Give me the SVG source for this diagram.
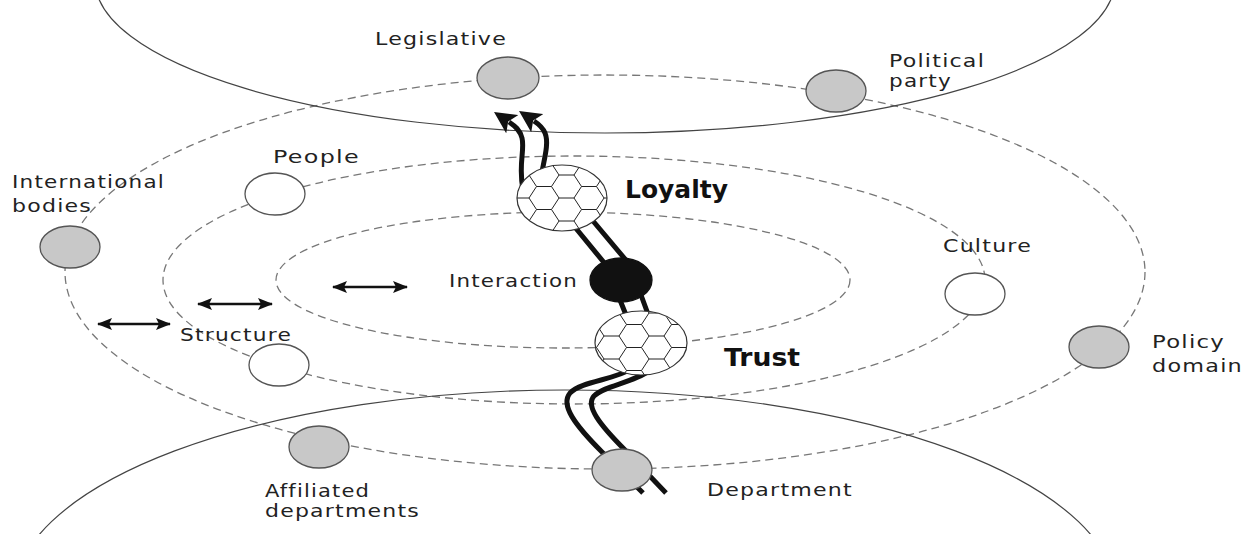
<svg xmlns="http://www.w3.org/2000/svg" width="1259" height="534" viewBox="0 0 1259 534">
<style>
.dash{fill:none;stroke:#777;stroke-width:1.3;stroke-dasharray:8 5}
.solid{fill:none;stroke:#444;stroke-width:1.2}
.gray{fill:#c8c8c8;stroke:#555;stroke-width:1.3}
.white{fill:#fff;stroke:#555;stroke-width:1.3}
.black{fill:#111;stroke:#111;stroke-width:1.3}
.hexbg{fill:#fff}
.hexfill{fill:url(#hex)}
.hexrim{fill:none;stroke:#333;stroke-width:1.2}
.lbl{font-family:"DejaVu Sans",Verdana,sans-serif;font-size:18px;letter-spacing:1px;fill:#222}
.big{font-family:"DejaVu Sans",Verdana,sans-serif;font-size:24px;font-weight:bold;fill:#111}
.flow{fill:none;stroke:#111;stroke-width:5}
.dbl{fill:none;stroke:#111;stroke-width:2.6}
</style>
<defs>
<pattern id="hex" patternUnits="userSpaceOnUse" x="4" y="175" width="45" height="23">
<path d="M7.5,11.5 L15,0 L30,0 L37.5,11.5 L30,23 L15,23 Z M0,11.5 H7.5 M37.5,11.5 H45" fill="none" stroke="#222" stroke-width="1"/>
</pattern>
<marker id="big" markerUnits="userSpaceOnUse" viewBox="0 0 22 22" markerWidth="22" markerHeight="22" refX="4" refY="11" orient="auto">
<path d="M0,0 L22,11 L0,22 L5,11 Z" fill="#111"/>
</marker>
<marker id="small" markerUnits="userSpaceOnUse" viewBox="0 0 15 12" markerWidth="15" markerHeight="12" refX="14" refY="6" orient="auto-start-reverse">
<path d="M0,0 L15,6 L0,12 L3,6 Z" fill="#111"/>
</marker>
</defs>

<g id="rings">
<ellipse class="dash" cx="605" cy="272" rx="540" ry="197"/>
<ellipse class="dash" cx="574" cy="280" rx="411" ry="124"/>
<ellipse class="dash" cx="563" cy="280" rx="287" ry="68"/>
<ellipse class="solid" cx="605" cy="-20" rx="510" ry="153"/>
<ellipse class="solid" cx="565" cy="598" rx="552" ry="208"/>
</g>

<g id="connectors">
<path class="flow" d="M643,493 L602,452 C575,425 560,405 570,393 C582,381 615,380 633,368"/>
<path class="flow" d="M666,493 L625,450 C600,425 585,406 594,396 C605,385 635,383 653,368"/>
<path class="flow" d="M565,215 L606,265 L630,325"/>
<path class="flow" d="M588,215 L630,265 L652,325"/>
<path class="flow" d="M523,190 C518,165 525,150 522,138 C520,130 515,126 509,122" marker-end="url(#big)"/>
<path class="flow" d="M540,185 C542,165 550,145 545,133 C543,128 540,125 534,121" marker-end="url(#big)"/>
<line class="dbl" x1="98" y1="324" x2="170" y2="324" marker-start="url(#small)" marker-end="url(#small)"/>
<line class="dbl" x1="198" y1="304" x2="272" y2="304" marker-start="url(#small)" marker-end="url(#small)"/>
<line class="dbl" x1="333" y1="287" x2="407" y2="287" marker-start="url(#small)" marker-end="url(#small)"/>
</g>

<g id="legislative">
<ellipse class="gray" cx="508" cy="78" rx="31" ry="21"/>
<text class="lbl" x="375" y="45" textLength="132" lengthAdjust="spacingAndGlyphs">Legislative</text>
</g>
<g id="political-party">
<ellipse class="gray" cx="836" cy="91" rx="30" ry="21"/>
<text class="lbl" x="889" y="67" textLength="96" lengthAdjust="spacingAndGlyphs">Political</text>
<text class="lbl" x="889" y="87" textLength="63" lengthAdjust="spacingAndGlyphs">party</text>
</g>
<g id="international-bodies">
<ellipse class="gray" cx="70" cy="247" rx="30" ry="21"/>
<text class="lbl" x="12" y="188" textLength="153" lengthAdjust="spacingAndGlyphs">International</text>
<text class="lbl" x="12" y="212" textLength="80" lengthAdjust="spacingAndGlyphs">bodies</text>
</g>
<g id="people">
<ellipse class="white" cx="275" cy="194" rx="30" ry="21"/>
<text class="lbl" x="273" y="163" textLength="87" lengthAdjust="spacingAndGlyphs">People</text>
</g>
<g id="structure">
<ellipse class="white" cx="279" cy="365" rx="30" ry="21"/>
<text class="lbl" x="180" y="341" textLength="112" lengthAdjust="spacingAndGlyphs">Structure</text>
</g>
<g id="culture">
<ellipse class="white" cx="975" cy="294" rx="30" ry="21"/>
<text class="lbl" x="943" y="252" textLength="89" lengthAdjust="spacingAndGlyphs">Culture</text>
</g>
<g id="policy-domain">
<ellipse class="gray" cx="1099" cy="347" rx="30" ry="21"/>
<text class="lbl" x="1152" y="348" textLength="73" lengthAdjust="spacingAndGlyphs">Policy</text>
<text class="lbl" x="1152" y="372" textLength="91" lengthAdjust="spacingAndGlyphs">domain</text>
</g>
<g id="affiliated-departments">
<ellipse class="gray" cx="319" cy="447" rx="30" ry="21"/>
<text class="lbl" x="265" y="497" textLength="105" lengthAdjust="spacingAndGlyphs">Affiliated</text>
<text class="lbl" x="265" y="517" textLength="155" lengthAdjust="spacingAndGlyphs">departments</text>
</g>
<g id="department">
<ellipse class="gray" cx="622" cy="470" rx="30" ry="21"/>
<text class="lbl" x="707" y="496" textLength="146" lengthAdjust="spacingAndGlyphs">Department</text>
</g>
<g id="interaction">
<ellipse class="black" cx="621" cy="280" rx="31" ry="22"/>
<text class="lbl" x="449" y="287" textLength="129" lengthAdjust="spacingAndGlyphs">Interaction</text>
</g>
<g id="loyalty">
<ellipse class="hexbg" cx="562" cy="198" rx="45" ry="33"/>
<ellipse class="hexfill" cx="562" cy="198" rx="45" ry="33"/>
<ellipse class="hexrim" cx="562" cy="198" rx="45" ry="33"/>
<text class="big" x="625" y="198" textLength="103" lengthAdjust="spacingAndGlyphs">Loyalty</text>
</g>
<g id="trust">
<ellipse class="hexbg" cx="641" cy="343" rx="46" ry="32"/>
<ellipse class="hexfill" cx="641" cy="343" rx="46" ry="32"/>
<ellipse class="hexrim" cx="641" cy="343" rx="46" ry="32"/>
<text class="big" x="724" y="366" textLength="76" lengthAdjust="spacingAndGlyphs">Trust</text>
</g>
</svg>
